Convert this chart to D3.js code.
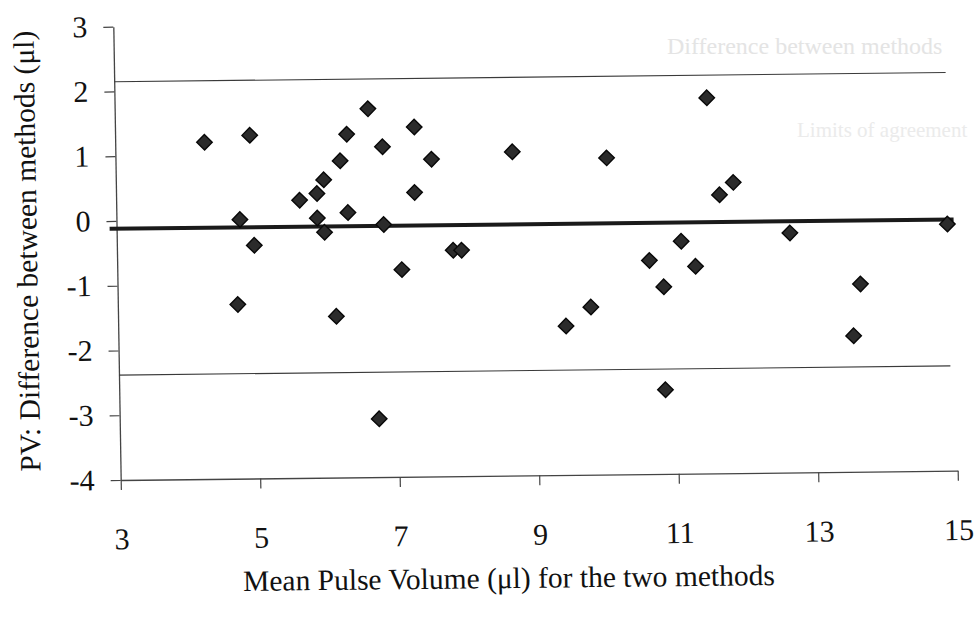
<!DOCTYPE html>
<html>
<head>
<meta charset="utf-8">
<script src="https://cdn.jsdelivr.net/npm/d3@7"></script>
<style>
  html, body { margin: 0; padding: 0; background: #fff; }
  svg { display: block; }
  text { font-family: "Liberation Serif", "Times New Roman", serif; fill: #111; }
</style>
</head>
<body>
<svg id="chart" width="978" height="621"></svg>
<script>
// Bland–Altman plot: pulse volume agreement between two methods
const meanVolume = [4.28, 4.93, 6.63, 6.32, 7.29, 6.83, 6.22, 7.53, 5.98, 5.88,
                    5.63, 7.28, 4.77, 5.88, 6.32, 5.98, 6.83, 4.97, 7.82, 7.94,
                    7.08, 4.72, 6.13, 6.72, 11.49, 8.69, 10.04, 11.85, 11.65, 14.91,
                    12.65, 11.09, 10.63, 11.29, 10.83, 13.65, 9.78, 9.42, 13.54, 10.83];
const difference = [1.20, 1.30, 1.69, 1.30, 1.40, 1.10, 0.89, 0.90, 0.60, 0.39,
                    0.29, 0.39, 0.00, 0.01, 0.09, -0.21, -0.10, -0.40, -0.51, -0.51,
                    -0.80, -1.31, -1.51, -3.10, 1.80, 1.00, 0.89, 0.49, 0.30, -0.19,
                    -0.30, -0.41, -0.70, -0.80, -1.11, -1.10, -1.41, -1.70, -1.90, -2.70];

const meanDifference = -0.12;
const upperLimit = 2.15;
const lowerLimit = -2.38;

const xTicks = [3, 5, 7, 9, 11, 13, 15];
const yTicks = [-4, -3, -2, -1, 0, 1, 2, 3];

const xTitle = "Mean Pulse Volume (\u03bcl) for the two methods";
const yTitle = "PV: Difference between methods (\u03bcl)";
const legendLabels = ["Difference between methods", "Limits of agreement"];

const W = 837, H = 453.3;
const svg = d3.select("#chart");

// the printed page sits slightly askew, so the plot frame is sheared a little
const g = svg.append("g")
  .attr("transform", "matrix(1,-0.0111,0.0163,1,113.3,26.7)");

const x = d3.scaleLinear().domain([3, 15]).range([0, W]);
const y = d3.scaleLinear().domain([-4, 3]).range([H, 0]);

const plain = d => String(d);

const xAxis = g.append("g")
  .attr("transform", `translate(0,${H})`)
  .call(d3.axisBottom(x).tickValues(xTicks).tickFormat(plain)
    .tickSize(10).tickSizeOuter(0).tickPadding(38));
const yAxis = g.append("g")
  .call(d3.axisLeft(y).tickValues(yTicks).tickFormat(plain)
    .tickSize(10).tickSizeOuter(0).tickPadding(16));

[xAxis, yAxis].forEach(a => {
  a.attr("font-family", null).attr("font-size", null);
  a.select(".domain").attr("stroke", "#444").attr("stroke-width", 1.3);
  a.selectAll(".tick line").attr("stroke", "#444").attr("stroke-width", 1.2);
  a.selectAll(".tick text")
    .style("font-family", "'Liberation Serif', 'Times New Roman', serif")
    .style("font-size", "30px").attr("fill", "#111");
});

// limits of agreement
[upperLimit, lowerLimit].forEach(v => {
  g.append("line")
    .attr("x1", x(3)).attr("x2", x(14.92))
    .attr("y1", y(v)).attr("y2", y(v))
    .attr("stroke", "#3a3a3a").attr("stroke-width", 1.1);
});

// mean difference
g.append("line")
  .attr("x1", x(2.9)).attr("x2", x(15))
  .attr("y1", y(meanDifference)).attr("y2", y(meanDifference))
  .attr("stroke", "#1a1a1a").attr("stroke-width", 4);

// data points as diamonds
const diamond = d3.symbol().type(d3.symbolSquare).size(120);
g.append("g").selectAll("path")
  .data(meanVolume.map((m, i) => [m, difference[i]]))
  .join("path")
  .attr("d", diamond)
  .attr("transform", d => `translate(${x(d[0])},${y(d[1])}) rotate(45)`)
  .attr("fill", "#2b2b2b")
  .attr("stroke", "#080808")
  .attr("stroke-width", 1.4);

// axis titles
g.append("text")
  .attr("x", 386.6).attr("y", 565.6)
  .attr("text-anchor", "middle")
  .style("font-size", "29.5px")
  .text(xTitle);

g.append("text")
  .attr("transform", "translate(-80,223.5) rotate(-90)")
  .attr("text-anchor", "middle")
  .style("font-size", "29.5px")
  .text(yTitle);

// washed-out legend text
svg.append("text")
  .attr("x", 667).attr("y", 54)
  .style("font-size", "24px")
  .style("fill", "#e4e4e4")
  .text(legendLabels[0]);
svg.append("text")
  .attr("x", 797).attr("y", 137)
  .style("font-size", "21px")
  .style("fill", "#ebebeb")
  .text(legendLabels[1]);
</script>
</body>
</html>
